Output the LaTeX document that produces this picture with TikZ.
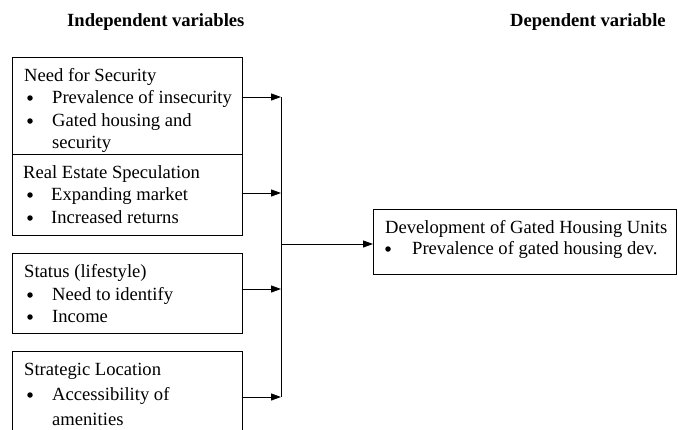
\documentclass[tikz,border=0pt]{standalone}
\usepackage{fontspec}
\setmainfont{Liberation Serif}
\usetikzlibrary{arrows.meta}
\newcommand\myfs{\fontsize{18.6pt}{23pt}\selectfont}
\tikzset{
  box/.style={draw, line width=0.8pt, fill=white, inner sep=0pt, outer sep=0pt, anchor=north west, minimum width=230pt},
  arr/.style={-{Triangle[length=10pt,width=7pt]}, line width=1pt},
  txt/.style={anchor=base west, inner sep=0pt, font=\myfs},
  hdr/.style={anchor=base west, inner sep=0pt, font=\myfs\bfseries},
  bul/.style={circle, fill=black, inner sep=0pt, minimum size=5.5pt}
}
\begin{document}
\begin{tikzpicture}[x=1pt,y=1pt]
\useasboundingbox (0,0) rectangle (678,-429);
% headers
\node[hdr] (h1) at (67,-26) {Independent variables};
\node[hdr] (h2) at (510,-26) {Dependent variable};
% box 1
\node[box, minimum height=97pt] (b1) at (12,-57) {};
\node[txt] (t11) at (24,-81) {Need for Security};
\node[bul] (u11) at (30,-98) {};
\node[txt] (t12) at (52,-103) {Prevalence of insecurity};
\node[bul] (u12) at (30,-121) {};
\node[txt] (t13) at (52,-126) {Gated housing and};
\node[txt] (t14) at (52,-148) {security};
% box 2
\node[box, minimum height=81pt] (b2) at (12,-154) {};
\node[txt] (t21) at (23,-178) {Real Estate Speculation};
\node[bul] (u21) at (30,-195) {};
\node[txt] (t22) at (51,-200) {Expanding market};
\node[bul] (u22) at (30,-218) {};
\node[txt] (t23) at (51,-223) {Increased returns};
% box 3
\node[box, minimum height=80pt] (b3) at (12,-253) {};
\node[txt] (t31) at (24,-277) {Status (lifestyle)};
\node[bul] (u31) at (30,-295) {};
\node[txt] (t32) at (52,-300) {Need to identify};
\node[bul] (u32) at (30,-317) {};
\node[txt] (t33) at (52,-322) {Income};
% box 4
\node[box, minimum height=95pt] (b4) at (12,-351) {};
\node[txt] (t41) at (24,-375) {Strategic Location};
\node[bul] (u41) at (30,-395) {};
\node[txt] (t42) at (52,-400) {Accessibility of};
\node[txt] (t43) at (52,-425) {amenities};
% dependent box
\node[box, minimum width=303pt, minimum height=65pt] (d) at (373,-209) {};
\node[txt] (td1) at (385,-233) {Development of Gated Housing Units};
\node[bul] (ud1) at (388,-249) {};
\node[txt] (td2) at (412,-254) {Prevalence of gated housing dev.};
% bus
\coordinate (j1) at (281,-97);
\coordinate (j2) at (281,-193);
\coordinate (j3) at (281,-289);
\coordinate (j4) at (281,-397);
\coordinate (jo) at (281,-244);
\draw[line width=1pt] (j1) -- (j4);
\draw[arr] (b1.east |- j1) -- (j1);
\draw[arr] (b2.east |- j2) -- (j2);
\draw[arr] (b3.east |- j3) -- (j3);
\draw[arr] (b4.east |- j4) -- (j4);
\draw[arr] (jo) -- (d.west |- jo);
\end{tikzpicture}
\end{document}
